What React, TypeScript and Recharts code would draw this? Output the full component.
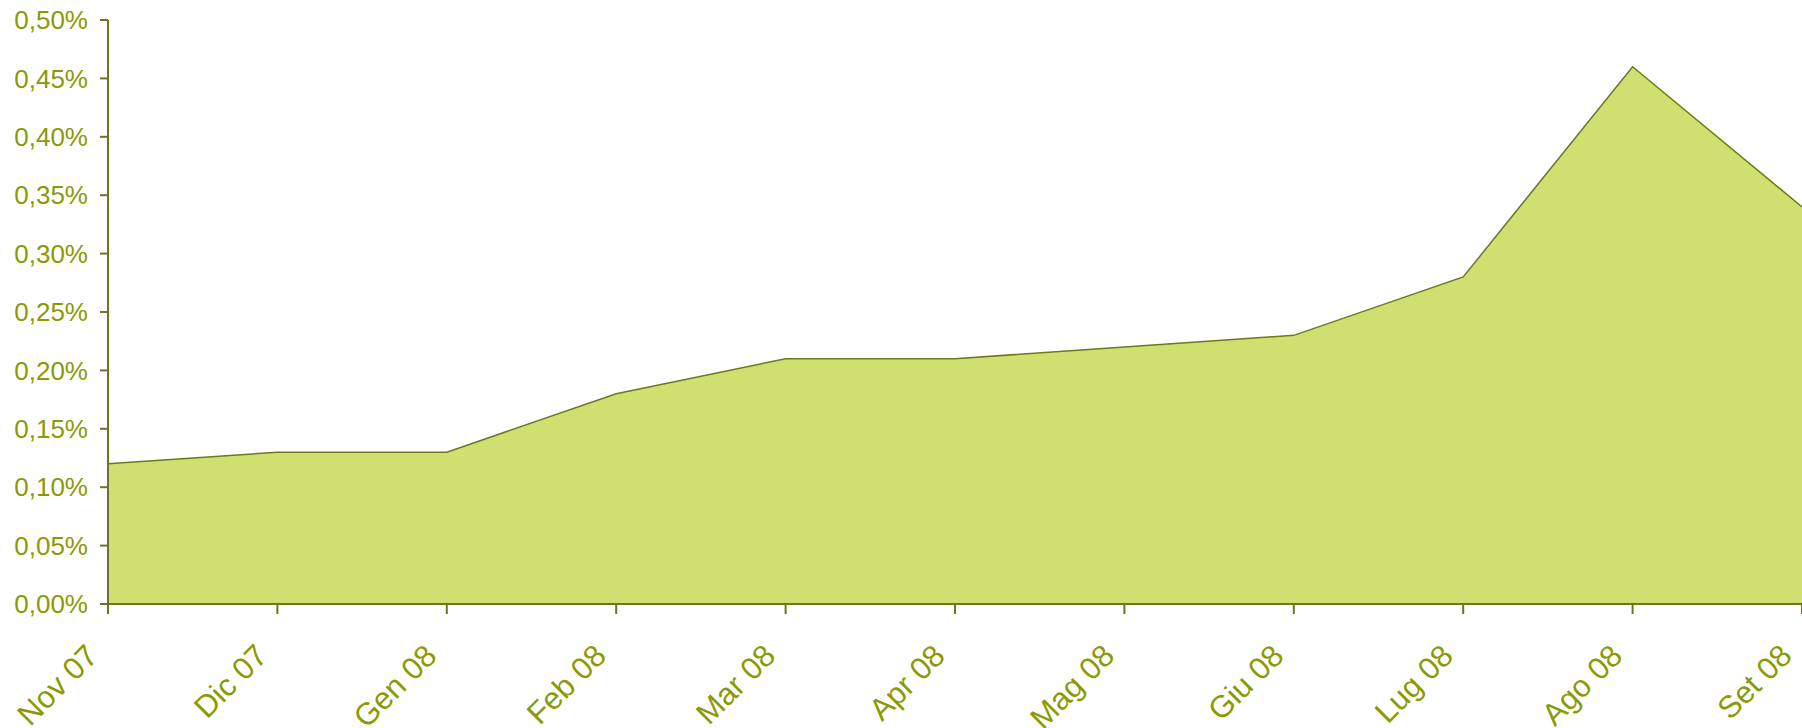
import { Area, AreaChart, XAxis, YAxis } from 'recharts'

const mesi = ['Nov 07', 'Dic 07', 'Gen 08', 'Feb 08', 'Mar 08', 'Apr 08', 'Mag 08', 'Giu 08', 'Lug 08', 'Ago 08', 'Set 08']
const valori = [0.12, 0.13, 0.13, 0.18, 0.21, 0.21, 0.22, 0.23, 0.28, 0.46, 0.34]
const yTicks = [0, 0.05, 0.1, 0.15, 0.2, 0.25, 0.3, 0.35, 0.4, 0.45, 0.5]

const data = mesi.map((m, i) => ({ mese: m, valore: valori[i] }))

const TEXT = '#8a9a05'
const AXIS = '#6e7420'
const FONT = '"Liberation Sans", Arial, sans-serif'

const fmtPct = (v: number) => v.toFixed(2).replace('.', ',') + '%'

// etichetta ruotata a -45°, ancorata alla fine sotto la tacca
function MeseTick({ x, y, payload }: any) {
  return (
    <g transform={`translate(${x - 16},${y + 36})`}>
      <text
        transform="rotate(-45)"
        textAnchor="end"
        dy="0.35em"
        fill={TEXT}
        fontSize={31}
        fontFamily={FONT}
      >
        {payload.value}
      </text>
    </g>
  )
}

export default function App() {
  return (
    <div style={{ position: 'absolute', left: 0, top: 0, background: '#fff' }}>
      <AreaChart width={1802} height={728} data={data} margin={{ top: 20, right: 0, bottom: 0, left: 0 }}>
        <XAxis
          dataKey="mese"
          height={124}
          tick={<MeseTick />}
          tickSize={10}
          tickMargin={0}
          interval={0}
          stroke={AXIS}
          strokeWidth={2}
        />
        <YAxis
          width={108}
          domain={[0, 0.5]}
          ticks={yTicks}
          tickFormatter={fmtPct}
          tickSize={8}
          tickMargin={12}
          interval={0}
          stroke={AXIS}
          strokeWidth={2}
          tick={{ fill: TEXT, fontSize: 26, fontFamily: FONT }}
        />
        <Area
          type="linear"
          dataKey="valore"
          stroke="#6b7a1a"
          strokeWidth={1.5}
          fill="#d0e070"
          fillOpacity={1}
          isAnimationActive={false}
        />
      </AreaChart>
    </div>
  )
}
